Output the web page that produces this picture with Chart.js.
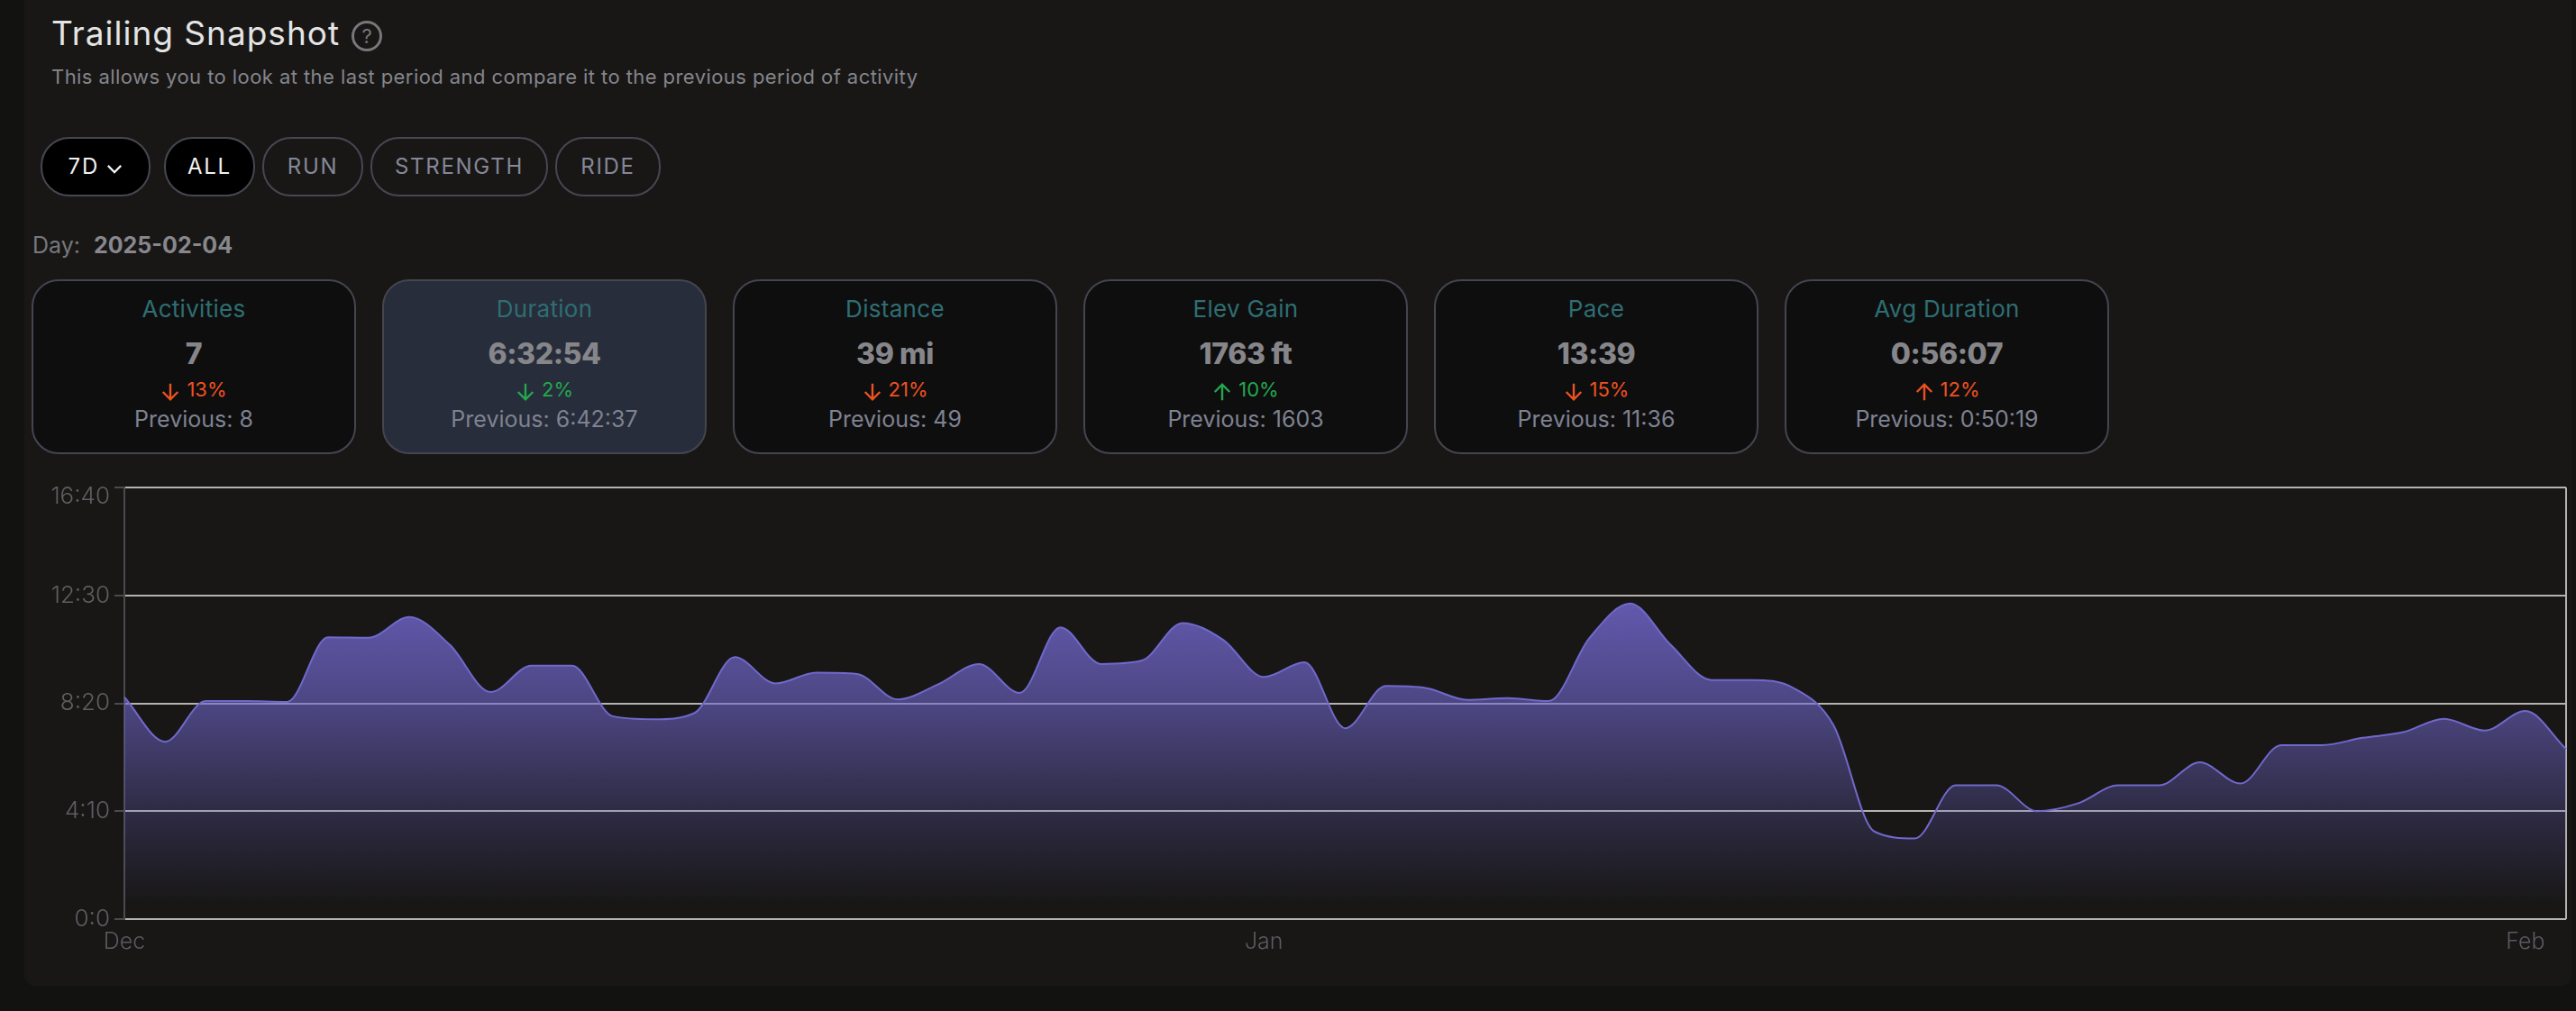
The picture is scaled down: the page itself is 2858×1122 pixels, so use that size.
<!DOCTYPE html>
<html>
<head>
<meta charset="utf-8">
<title>Trailing Snapshot</title>
<script src="https://cdn.jsdelivr.net/npm/chart.js@4/dist/chart.umd.min.js"></script>
<style>
  html, body { margin:0; padding:0; background:#121211; width:2858px; height:1122px; overflow:hidden; font-family:Inter, "Noto Sans", sans-serif; }
  #panel { position:absolute; left:27px; top:-20px; width:2826px; height:1114px; background:#181716; border-radius:0 0 12px 12px; }
  #title { position:absolute; left:57px; top:14px; font-size:37px; letter-spacing:1px; line-height:46px; color:#e4e4e4; font-weight:400; }
  #help { position:absolute; left:390px; top:23px; width:28px; height:28px; border:3px solid #77777c; border-radius:50%; color:#77777c; font-size:22px; line-height:28px; text-align:center; }
  #sub { position:absolute; left:57px; top:70px; font-size:22px; letter-spacing:0.43px; line-height:30px; color:#85858b; white-space:nowrap; }
  .btn { position:absolute; top:152px; height:62px; border:2px solid #474752; border-radius:32px; color:#858898; font-size:24px; letter-spacing:1.7px; line-height:62px; text-align:center; }
  .btn.on { background:#000; color:#f2f2f2; }
  #day { position:absolute; left:36px; top:255px; font-size:25px; line-height:34px; color:#77777d; white-space:nowrap; }
  #day b { color:#87878d; margin-left:8px; font-weight:700; }
  .card { position:absolute; top:310px; width:356px; height:190px; background:#0e0e0f; border:2px solid #454550; border-radius:30px; text-align:center; }
  .card.sel { background:#272d3a; }
  .card div { position:absolute; left:0; width:100%; white-space:nowrap; }
  .name { top:13px; font-size:26px; letter-spacing:0.3px; line-height:36px; color:#2e6e72; }
  .val { top:59px; font-size:32px; letter-spacing:-0.4px; line-height:44px; font-weight:800; color:#86868a; }
  .delta { top:104px; font-size:22px; line-height:32px; }
  .delta svg { vertical-align:-6px; margin-right:7px; }
  .prev { top:135px; font-size:25px; line-height:36px; color:#7f8291; }
  #wrap { position:absolute; left:0; top:500px; width:2858px; height:620px; }
</style>
</head>
<body>
<div id="panel"></div>
<div id="title">Trailing Snapshot</div>
<div id="help">?</div>
<div id="sub">This allows you to look at the last period and compare it to the previous period of activity</div>
<div class="btn on" style="left:45px;width:118px">7D <svg width="18" height="11" viewBox="0 0 20 12"><path d="M2 2l8 8 8-8" fill="none" stroke="#f2f2f2" stroke-width="2.5"/></svg></div>
<div class="btn on" style="left:182px;width:97px">ALL</div>
<div class="btn" style="left:291px;width:108px">RUN</div>
<div class="btn" style="left:411px;width:193px">STRENGTH</div>
<div class="btn" style="left:616px;width:113px">RIDE</div>
<div id="day">Day: <b>2025-02-04</b></div>
<div id="cards"></div>
<div id="wrap"><canvas id="myChart"></canvas></div>

<script>
// cards
var cardNames = ["Activities", "Duration", "Distance", "Elev Gain", "Pace", "Avg Duration"];
var cardValues = ["7", "6:32:54", "39 mi", "1763 ft", "13:39", "0:56:07"];
var cardDeltas = ["13%", "2%", "21%", "10%", "15%", "12%"];
var cardArrows = ["down", "down", "down", "up", "down", "up"];
var cardColors = ["#ee5120", "#22a84e", "#ee5120", "#22a84e", "#ee5120", "#ee5120"];
var cardPrevious = ["Previous: 8", "Previous: 6:42:37", "Previous: 49", "Previous: 1603", "Previous: 11:36", "Previous: 0:50:19"];

// chart
var durationSeconds = [514, 411, 505, 505, 503, 653, 652, 700, 635, 526, 587, 587, 470, 463, 477, 607, 546, 571, 568, 509,
  544, 591, 524, 676, 591, 599, 686, 647, 561, 595, 442, 540, 535, 508, 512, 505, 651, 731, 635, 554,
  554, 536, 449, 203, 187, 310, 310, 250, 268, 310, 310, 363, 314, 403, 403, 420, 433, 464, 437, 482, 394];
var monthLabels = ["Dec", "Jan", "Feb"];
var monthIndexes = [0, 28, 59];
var yMax = 1000;
var yStep = 250;

var chartFont = "Inter";

var html = "";
for (var i = 0; i < cardNames.length; i++) {
  var arrow = cardArrows[i] == "up" ? "M12 22V3M3 12l9-9 9 9" : "M12 2v19M3 12l9 9 9-9";
  html += '<div class="card' + (i == 1 ? ' sel' : '') + '" style="left:' + (35 + 389 * i) + 'px">' +
    '<div class="name">' + cardNames[i] + '</div>' +
    '<div class="val">' + cardValues[i] + '</div>' +
    '<div class="delta" style="color:' + cardColors[i] + '"><svg width="22" height="22" viewBox="0 0 24 24"><path d="' + arrow + '" fill="none" stroke="' + cardColors[i] + '" stroke-width="2.6"/></svg>' + cardDeltas[i] + '</div>' +
    '<div class="prev">' + cardPrevious[i] + '</div></div>';
}
document.getElementById("cards").innerHTML = html;

function fmtSeconds(v) {
  return Math.floor(v / 60) + ":" + (v % 60);
}

var categories = durationSeconds.map(function (v, i) {
  var k = monthIndexes.indexOf(i);
  return k >= 0 ? monthLabels[k] : "";
});

new Chart("myChart", {
  type: "line",
  data: {
    labels: categories,
    datasets: [{
      data: durationSeconds,
      borderColor: "#7069cc",
      borderWidth: 2,
      pointRadius: 0,
      cubicInterpolationMode: "monotone",
      fill: "origin",
      backgroundColor: function (ctx) {
        var area = ctx.chart.chartArea;
        if (!area) return "transparent";
        var g = ctx.chart.ctx.createLinearGradient(0, area.top, 0, area.bottom);
        g.addColorStop(0.2, "rgba(112,100,200,0.92)");
        g.addColorStop(0.5, "rgba(112,103,204,0.6)");
        g.addColorStop(0.75, "rgba(112,103,204,0.26)");
        g.addColorStop(0.97, "rgba(112,103,204,0)");
        return g;
      }
    }]
  },
  options: {
    responsive: true,
    maintainAspectRatio: false,
    animation: false,
    layout: { padding: { left: 38, right: 11, top: 41, bottom: 40 } },
    plugins: { legend: { display: false }, tooltip: { enabled: false } },
    scales: {
      x: {
        afterFit: function (s) { s.height = 60; },
        border: { display: false },
        grid: {
          drawTicks: false,
          lineWidth: 2,
          color: function (ctx) {
            return ctx.index == durationSeconds.length - 1 ? "#b5b3ae" : "transparent";
          }
        },
        ticks: {
          autoSkip: false,
          maxRotation: 0,
          padding: 10,
          color: "#5a5a60",
          font: { family: chartFont, size: 25, weight: 300 }
        }
      },
      y: {
        min: 0,
        max: yMax,
        afterFit: function (s) { s.width = 100; },
        border: { color: "#4a4a50", width: 2 },
        grid: { color: "#b5b3ae", lineWidth: 2, tickColor: "#4a4a50", tickLength: 11 },
        ticks: {
          stepSize: yStep,
          padding: 5,
          color: "#5e5e64",
          font: function (ctx) {
            // the top label sits lower than its tick in the original
            return { family: chartFont, size: 26, weight: 300, lineHeight: ctx.tick && ctx.tick.value == yMax ? "20px" : 1.2 };
          },
          callback: function (v) {
            return v == yMax ? ["", fmtSeconds(v)] : fmtSeconds(v);
          }
        }
      }
    }
  }
});
</script>
</body>
</html>
